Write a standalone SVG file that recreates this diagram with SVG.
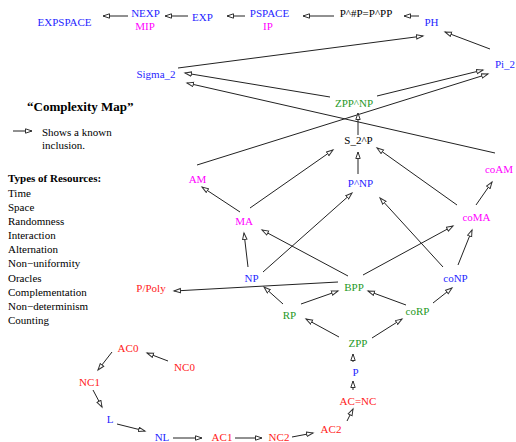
<svg xmlns="http://www.w3.org/2000/svg" width="516" height="442" viewBox="0 0 516 442">
<defs>
<marker id="ah" markerUnits="userSpaceOnUse" markerWidth="9" markerHeight="7" refX="7" refY="3" orient="auto">
<path d="M0.5,0.8 L7,3 L0.5,5.2 Z" fill="#fff" stroke="#333" stroke-width="1"/>
</marker>
<style>
text{font-family:"Liberation Serif","Times New Roman",serif;font-size:11px}
.n text{text-anchor:middle}
.b{fill:#1f1fff}.m{fill:#ff00ff}.r{fill:#ff1a1a}.g{fill:#1f991f}.k{fill:#000}
#edges path{fill:none;stroke:#222;stroke-width:1;marker-end:url(#ah)}
</style>
</defs>
<rect width="516" height="442" fill="#fff"/>
<g id="edges">
<path d="M128,16 L103,16"/>
<path d="M188,16 L165,16"/>
<path d="M245,16 L227,16"/>
<path d="M334,16 L303,16"/>
<path d="M419,16 L404,16"/>
<path d="M178,68 L423,36"/>
<path d="M490,49 L445,32"/>
<path d="M330,97 L185,73"/>
<path d="M495,153 L187,83"/>
<path d="M377,96 L483,70"/>
<path d="M197,165 L488,74"/>
<path d="M358,135 L358,113"/>
<path d="M358,174 L358,152"/>
<path d="M240,212 L202,187"/>
<path d="M250,208 L333,150"/>
<path d="M457,205 L377,148"/>
<path d="M476,205 L492,182"/>
<path d="M248,267 L244,233"/>
<path d="M348,276 L262,230"/>
<path d="M263,272 L352,193"/>
<path d="M443,267 L380,198"/>
<path d="M363,275 L453,226"/>
<path d="M458,265 L472,230"/>
<path d="M338,282 L174,291"/>
<path d="M283,304 L264,287"/>
<path d="M301,304 L338,291"/>
<path d="M406,305 L368,291"/>
<path d="M433,303 L452,288"/>
<path d="M339,337 L306,319"/>
<path d="M372,338 L402,319"/>
<path d="M353,362 L353,354"/>
<path d="M353,390 L353,381"/>
<path d="M347,421 L353,409"/>
<path d="M292,437 L313,433"/>
<path d="M235,438 L262,438"/>
<path d="M173,438 L202,438"/>
<path d="M117,424 L145,431"/>
<path d="M93,390 L102,407"/>
<path d="M112,352 L98,370"/>
<path d="M168,361 L147,353"/>
<path d="M13,131 L32,131"/>
</g>
<g class="n">
<g id="EXPSPACE"><text class="b" x="64.5" y="26">EXPSPACE</text></g>
<g id="NEXP"><text class="b" x="145.5" y="17">NEXP</text><text class="m" x="145" y="30">MIP</text></g>
<g id="EXP"><text class="b" x="202.5" y="21">EXP</text></g>
<g id="PSPACE"><text class="b" x="269.5" y="17">PSPACE</text><text class="m" x="268" y="30">IP</text></g>
<g id="PsharpP"><text class="k" x="366" y="17">P^#P=P^PP</text></g>
<g id="PH"><text class="b" x="431.5" y="26">PH</text></g>
<g id="Sigma2"><text class="b" x="156" y="78">Sigma_2</text></g>
<g id="Pi2"><text class="b" x="505" y="68">Pi_2</text></g>
<g id="ZPPNP"><text class="g" x="354" y="107">ZPP^NP</text></g>
<g id="S2P"><text class="k" x="358.5" y="144">S_2^P</text></g>
<g id="PNP"><text class="b" x="360.5" y="187">P^NP</text></g>
<g id="AM"><text class="m" x="197.5" y="183">AM</text></g>
<g id="coAM"><text class="m" x="499" y="173">coAM</text></g>
<g id="MA"><text class="m" x="244" y="225">MA</text></g>
<g id="coMA"><text class="m" x="476.5" y="221">coMA</text></g>
<g id="NP"><text class="b" x="251.5" y="282">NP</text></g>
<g id="PPoly"><text class="r" x="151" y="292">P/Poly</text></g>
<g id="BPP"><text class="g" x="354" y="291">BPP</text></g>
<g id="coNP"><text class="b" x="455.5" y="282">coNP</text></g>
<g id="RP"><text class="g" x="289.5" y="319">RP</text></g>
<g id="coRP"><text class="g" x="417.5" y="315">coRP</text></g>
<g id="ZPP"><text class="g" x="358" y="347">ZPP</text></g>
<g id="P"><text class="b" x="355.5" y="376">P</text></g>
<g id="ACNC"><text class="r" x="358" y="405">AC=NC</text></g>
<g id="AC2"><text class="r" x="331" y="433">AC2</text></g>
<g id="NC2"><text class="r" x="279" y="441">NC2</text></g>
<g id="AC1"><text class="r" x="222" y="441">AC1</text></g>
<g id="NL"><text class="b" x="162" y="441">NL</text></g>
<g id="L"><text class="b" x="110" y="423">L</text></g>
<g id="NC1"><text class="r" x="89.5" y="386">NC1</text></g>
<g id="AC0"><text class="r" x="128" y="352">AC0</text></g>
<g id="NC0"><text class="r" x="184.5" y="371">NC0</text></g>
</g>
<g id="legend" class="k">
<text x="27" y="111" style="font-weight:bold;font-size:13px">“Complexity Map”</text>
<text x="42" y="136">Shows a known</text>
<text x="42" y="149">inclusion.</text>
<text x="8" y="182" style="font-weight:bold">Types of Resources:</text>
<text x="8" y="197">Time</text>
<text x="8" y="211">Space</text>
<text x="8" y="225">Randomness</text>
<text x="8" y="239">Interaction</text>
<text x="8" y="253">Alternation</text>
<text x="8" y="267">Non−uniformity</text>
<text x="8" y="282">Oracles</text>
<text x="8" y="296">Complementation</text>
<text x="8" y="310">Non−determinism</text>
<text x="8" y="324">Counting</text>
</g>
</svg>
